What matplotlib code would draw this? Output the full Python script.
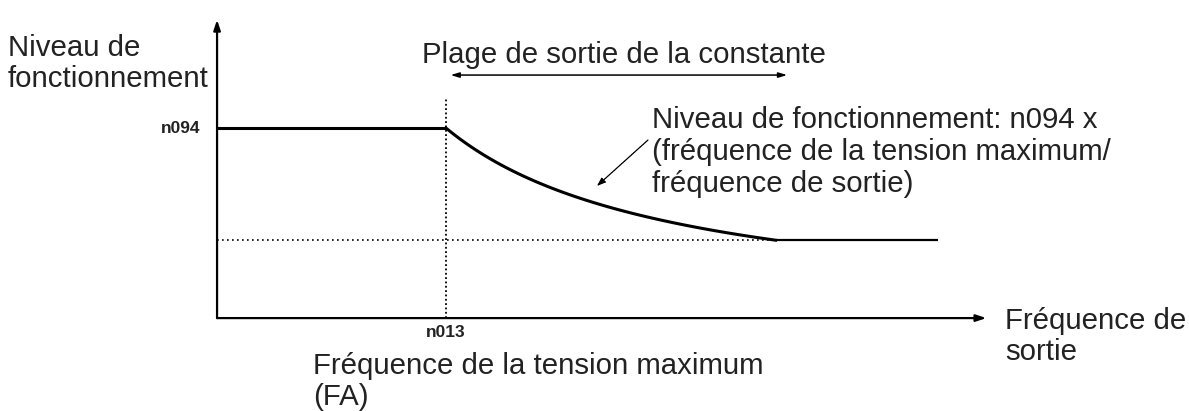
import numpy as np
import matplotlib
matplotlib.use("Agg")
import matplotlib.pyplot as plt

plt.rcParams["font.family"] = ["Liberation Sans", "DejaVu Sans"]

# operating level vs output frequency (normalised: n013 = 1, n094 = 1)
F_MAX_V = 1.0        # n013, max-voltage frequency
N094 = 1.0           # operating level at and below n013
LEVEL_FLOOR = 0.41   # level where the curve stops falling
F_FLOOR = N094 * F_MAX_V / LEVEL_FLOOR
F_END = 3.15

flat_f = [0.0, F_MAX_V]
flat_level = [N094, N094]
curve_f = np.linspace(F_MAX_V, F_FLOOR, 60)
curve_level = N094 * F_MAX_V / curve_f
floor_f = [F_FLOOR, F_END]
floor_level = [LEVEL_FLOOR, LEVEL_FLOOR]

TXT = "#222222"
FS = 21.2

fig = plt.figure(figsize=(11.89, 4.11), dpi=100)
ax = fig.add_axes([0, 0, 1, 1])
ax.set_xlim(-0.948, 4.245)
ax.set_ylim(-0.489, 1.674)
ax.axis("off")

# axes with arrow heads
ax.annotate("", xy=(0, 1.57), xytext=(0, 0),
            arrowprops=dict(arrowstyle="-|>,head_length=0.6,head_width=0.2",
                            color="black", lw=1.6, shrinkA=0, shrinkB=0))
ax.annotate("", xy=(3.36, 0), xytext=(0, 0),
            arrowprops=dict(arrowstyle="-|>,head_length=0.6,head_width=0.2",
                            color="black", lw=1.6, shrinkA=0, shrinkB=0))

# guides
ax.plot([F_MAX_V, F_MAX_V], [0, 1.16], color="black", lw=1.3, ls=(0, (1, 1.4)))
ax.plot([0, F_FLOOR], [LEVEL_FLOOR, LEVEL_FLOOR], color="black", lw=1.2,
        ls=(0, (1, 2.0)))

# characteristic
ax.plot(flat_f, flat_level, color="black", lw=2.2, solid_capstyle="butt")
ax.plot(curve_f, curve_level, color="black", lw=2.2)
ax.plot(floor_f, floor_level, color="black", lw=1.6, solid_capstyle="butt")

# constant output range
ax.annotate("", xy=(F_MAX_V + 0.02, 1.279), xytext=(2.49, 1.279),
            arrowprops=dict(arrowstyle="<|-|>,head_length=0.5,head_width=0.15",
                            color="black", lw=1.1, shrinkA=0, shrinkB=0))
ax.text(0.895, 1.385, "Plage de sortie de la constante", fontsize=FS,
        color=TXT, va="center", ha="left")

# pointer to the curve
ax.annotate("", xy=(1.659, 0.695), xytext=(1.882, 0.937),
            arrowprops=dict(arrowstyle="-|>,head_length=0.5,head_width=0.18",
                            color="black", lw=0.9, ls=(0, (2, 0.6)),
                            shrinkA=0, shrinkB=0))
ax.text(1.9, 0.874,
        "Niveau de fonctionnement: n094 x\n"
        "(fréquence de la tension maximum/\n"
        "fréquence de sortie)",
        fontsize=FS, color=TXT, va="center", ha="left", linespacing=1.2)

# axis texts
ax.text(-0.913, 1.342, "Niveau de\nfonctionnement", fontsize=FS, color=TXT,
        va="center", ha="left", linespacing=1.14)
ax.text(-0.074, N094, "n094", fontsize=12.5, weight="bold", color=TXT,
        va="center", ha="right")
ax.text(F_MAX_V, -0.035, "n013", fontsize=12.5, weight="bold", color=TXT,
        va="top", ha="center")
ax.text(0.419, -0.332, "Fréquence de la tension maximum\n(FA)", fontsize=FS,
        color=TXT, va="center", ha="left", linespacing=1.14)
ax.text(3.441, -0.095, "Fréquence de\nsortie", fontsize=FS, color=TXT,
        va="center", ha="left", linespacing=1.14)

fig.savefig("out.png", dpi=100, facecolor="white")
